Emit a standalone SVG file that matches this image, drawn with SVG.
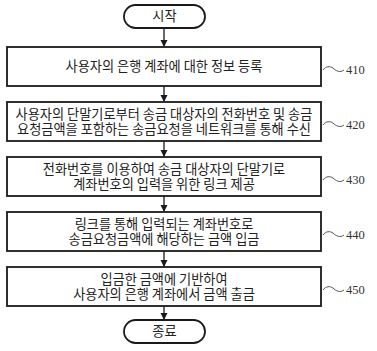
<svg xmlns="http://www.w3.org/2000/svg" width="377" height="351" viewBox="0 0 377 351">
<defs>
<style>
.box{fill:#fff;stroke:#1a1a1a;stroke-width:1.8}
.t{font-family:"Noto Sans CJK KR","Noto Sans",sans-serif;font-size:13.2px;fill:#222;text-anchor:middle}
.lbl{font-family:"Liberation Serif",serif;font-size:12.5px;fill:#333}
.wave{fill:none;stroke:#555;stroke-width:1}
.con{stroke:#1a1a1a;stroke-width:1.3;fill:none}
</style>
<marker id="ah" markerWidth="8" markerHeight="8" refX="6" refY="3.5" orient="auto" markerUnits="userSpaceOnUse">
<path d="M0,0 L7,3.5 L0,7 Z" fill="#1a1a1a"/>
</marker>
</defs>
<rect width="377" height="351" fill="#fff"/>
<g id="connectors">
<line class="con" x1="164" y1="28" x2="164" y2="46" marker-end="url(#ah)"/>
<line class="con" x1="164" y1="86" x2="164" y2="101" marker-end="url(#ah)"/>
<line class="con" x1="164" y1="141" x2="164" y2="156" marker-end="url(#ah)"/>
<line class="con" x1="164" y1="196" x2="164" y2="211" marker-end="url(#ah)"/>
<line class="con" x1="164" y1="251" x2="164" y2="266" marker-end="url(#ah)"/>
<line class="con" x1="164" y1="306" x2="164" y2="319" marker-end="url(#ah)"/>
</g>
<g id="start">
<rect class="box" x="124" y="5" width="81" height="23" rx="11.5"/>
<text class="t" x="164.5" y="21">시작</text>
</g>
<g id="s410">
<rect class="box" x="7" y="47" width="314" height="39"/>
<text class="t" x="164" y="71">사용자의 은행 계좌에 대한 정보 등록</text>
<path class="wave" d="M323,70 C326,66 330,66 333,68 C336,71 340,73 344,70"/>
<text class="lbl" x="346" y="73.5">410</text>
</g>
<g id="s420">
<rect class="box" x="7" y="102" width="314" height="39"/>
<text class="t" x="164" y="118.5">사용자의 단말기로부터 송금 대상자의 전화번호 및 송금</text>
<text class="t" x="164" y="133.5">요청금액을 포함하는 송금요청을 네트워크를 통해 수신</text>
<path class="wave" d="M323,125 C326,121 330,121 333,123 C336,126 340,128 344,125"/>
<text class="lbl" x="346" y="128.5">420</text>
</g>
<g id="s430">
<rect class="box" x="7" y="157" width="314" height="39"/>
<text class="t" x="164" y="173.5">전화번호를 이용하여 송금 대상자의 단말기로</text>
<text class="t" x="164" y="188.5">계좌번호의 입력을 위한 링크 제공</text>
<path class="wave" d="M323,180 C326,176 330,176 333,178 C336,181 340,183 344,180"/>
<text class="lbl" x="346" y="183.5">430</text>
</g>
<g id="s440">
<rect class="box" x="7" y="212" width="314" height="39"/>
<text class="t" x="164" y="228.5">링크를 통해 입력되는 계좌번호로</text>
<text class="t" x="164" y="243.5">송금요청금액에 해당하는 금액 입금</text>
<path class="wave" d="M323,235 C326,231 330,231 333,233 C336,236 340,238 344,235"/>
<text class="lbl" x="346" y="238.5">440</text>
</g>
<g id="s450">
<rect class="box" x="7" y="267" width="314" height="39"/>
<text class="t" x="164" y="283.5">입금한 금액에 기반하여</text>
<text class="t" x="164" y="298.5">사용자의 은행 계좌에서 금액 출금</text>
<path class="wave" d="M323,290 C326,286 330,286 333,288 C336,291 340,293 344,290"/>
<text class="lbl" x="346" y="293.5">450</text>
</g>
<g id="end">
<rect class="box" x="124" y="320" width="81" height="23" rx="11.5"/>
<text class="t" x="164.5" y="336">종료</text>
</g>
</svg>
